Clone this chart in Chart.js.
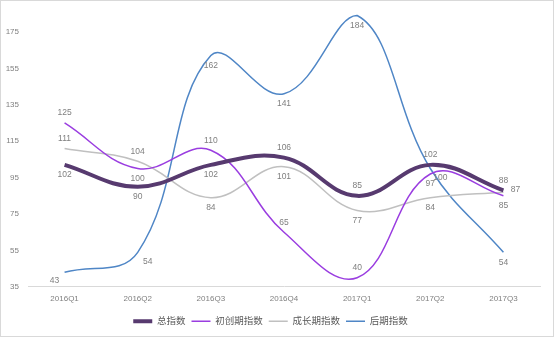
<!DOCTYPE html>
<html>
<head>
<meta charset="utf-8">
<script src="https://cdn.jsdelivr.net/npm/chart.js@4"></script>
<style>
  html, body { margin: 0; padding: 0; background: #fff; }
  #wrap { width: 554px; height: 337px; box-sizing: border-box; border: 1px solid #d9d9d9; }
</style>
</head>
<body>
<div id="wrap"><canvas id="myChart" width="552" height="335"></canvas></div>
<script>
var quarters = ['2016Q1', '2016Q2', '2016Q3', '2016Q4', '2017Q1', '2017Q2', '2017Q3'];
var totalIdx = [102, 90, 102, 106, 85, 102, 88];
var startupIdx = [125, 100, 110, 65, 40, 97, 85];
var growthIdx = [111, 104, 84, 101, 77, 84, 87];
var lateIdx = [43, 54, 162, 141, 184, 100, 54];
var yTicks = [35, 55, 75, 95, 115, 135, 155, 175];

// where each value label sits relative to its point
var totalPos = ['b', 'b', 'b', 'a', 'a', 'a', 'a'];
var startupPos = ['a', 'b', 'a', 'a', 'a', 'b', 'b'];
var growthPos = ['a', 'a', 'b', 'b', 'b', 'b', 'r'];
var latePos = ['bl', 'br', 'b', 'b', 'b', 'br', 'b'];

var valueLabels = {
  id: 'valueLabels',
  afterDatasetsDraw: function(chart) {
    var c = chart.ctx;
    c.save();
    c.font = '8.5px "Liberation Sans", Arial, sans-serif';
    c.fillStyle = '#7f7f7f';
    c.textAlign = 'center';
    c.textBaseline = 'middle';
    chart.data.datasets.forEach(function(ds, i) {
      var meta = chart.getDatasetMeta(i);
      meta.data.forEach(function(pt, j) {
        var p = ds.labelPos[j];
        var x = pt.x, y = pt.y;
        if (p === 'a') y -= 10;
        else if (p === 'b') y += 10;
        else if (p === 'r') { x += 12; y -= 3; }
        else if (p === 'bl') { x -= 10; y += 8; }
        else if (p === 'br') { x += 10; y += 9; }
        c.fillText(ds.data[j], x, y);
      });
    });
    c.restore();
  }
};

var ctx = document.getElementById('myChart').getContext('2d');
var myChart = new Chart(ctx, {
  type: 'line',
  data: {
    labels: quarters,
    datasets: [
      { label: '总指数', data: totalIdx, labelPos: totalPos, borderColor: '#573a6f', borderWidth: 4 },
      { label: '初创期指数', data: startupIdx, labelPos: startupPos, borderColor: '#9a3de0', borderWidth: 1.5 },
      { label: '成长期指数', data: growthIdx, labelPos: growthPos, borderColor: '#c0c0c0', borderWidth: 1.5 },
      { label: '后期指数', data: lateIdx, labelPos: latePos, borderColor: '#4f86c6', borderWidth: 1.5 }
    ]
  },
  options: {
    responsive: false,
    animation: false,
    layout: { padding: { top: 0, right: 13, left: 0, bottom: 0 } },
    elements: {
      point: { radius: 0 },
      line: { tension: 0.4, fill: false }
    },
    datasets: { line: { clip: false } },
    plugins: {
      legend: {
        position: 'bottom',
        labels: {
          usePointStyle: true,
          pointStyle: 'line',
          pointStyleWidth: 19,
          boxHeight: 4,
          color: '#595959',
          padding: 6,
          font: { size: 9.5, family: '"Liberation Sans", "Noto Sans CJK SC", sans-serif' }
        }
      },
      tooltip: { enabled: false }
    },
    scales: {
      x: {
        offset: true,
        grid: { display: false, drawTicks: false },
        border: { color: '#d9d9d9' },
        ticks: { color: '#808080', padding: 7, font: { size: 8, family: '"Liberation Sans", sans-serif' } }
      },
      y: {
        min: 35,
        max: 184.4,
        afterBuildTicks: function(axis) {
          axis.ticks = yTicks.map(function(v) { return { value: v }; });
        },
        afterFit: function(axis) { axis.width = 27; },
        grid: { display: false, drawTicks: false },
        border: { display: false },
        ticks: { color: '#808080', padding: 9, font: { size: 8, family: '"Liberation Sans", sans-serif' } }
      }
    }
  },
  plugins: [valueLabels]
});
</script>
</body>
</html>
